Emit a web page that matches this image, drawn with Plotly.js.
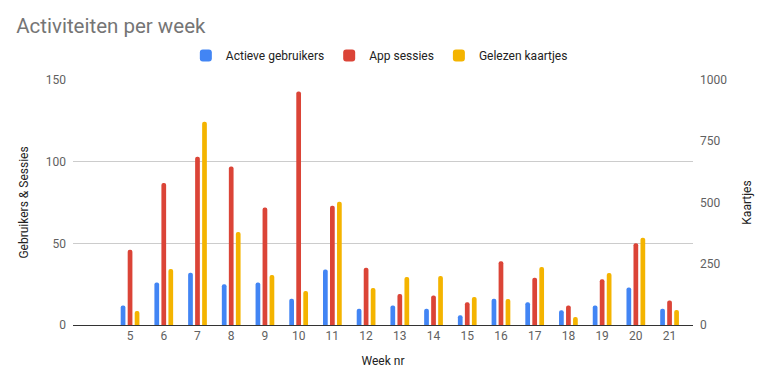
<!DOCTYPE html>
<html>
<head>
<meta charset="utf-8">
<script src="https://cdn.plot.ly/plotly-3.0.1.min.js"></script>
<style>
html,body{margin:0;padding:0;background:#fff;}
#chart{width:771px;height:391px;}
</style>
</head>
<body>
<div id="chart"></div>
<script>
const weeks = [5, 6, 7, 8, 9, 10, 11, 12, 13, 14, 15, 16, 17, 18, 19, 20, 21];
const actieveGebruikers = [12, 26, 32, 25, 26, 16, 34, 10, 12, 10, 6, 16, 14, 9, 12, 23, 10];
const appSessies = [46, 87, 103, 97, 72, 143, 73, 35, 19, 18, 14, 39, 29, 12, 28, 50, 15];
const gelezenKaartjes = [57, 229, 830, 380, 204, 139, 503, 151, 196, 200, 114, 106, 237, 33, 212, 356, 61];

const barW = 0.14;
const step = 0.2078;
const font = "Roboto, 'Open Sans', Arial, sans-serif";

const traces = [
  {type:'bar', name:'Actieve gebruikers', x:weeks, y:actieveGebruikers, yaxis:'y',
   width:barW, offset:-step-barW/2, marker:{color:'#4285F4', cornerradius:2}, hoverinfo:'x+y'},
  {type:'bar', name:'App sessies', x:weeks, y:appSessies, yaxis:'y',
   width:barW, offset:-barW/2, marker:{color:'#DB4437', cornerradius:2}, hoverinfo:'x+y'},
  {type:'bar', name:'Gelezen kaartjes', x:weeks, y:gelezenKaartjes, yaxis:'y2',
   width:barW, offset:step-barW/2, marker:{color:'#F4B400', cornerradius:2}, hoverinfo:'x+y'}
];

const layout = {
  width:771, height:391,
  margin:{l:73, r:78, t:80, b:66},
  paper_bgcolor:'#fff', plot_bgcolor:'#fff',
  font:{family:font, size:12, color:'#616161'},
  barmode:'overlay',
  title:{text:'Activiteiten per week', x:0.021, xanchor:'left', y:0.933, yanchor:'middle',
         font:{family:font, size:20.5, color:'#757575'}},
  showlegend:true,
  legend:{orientation:'h', x:0.182, xanchor:'left', y:1.10, yanchor:'middle',
          font:{family:font, size:12, color:'#222'}, itemwidth:30, traceorder:'normal'},
  xaxis:{type:'linear', range:[3.308, 21.695], tickvals:weeks, ticktext:weeks.map(String),
         showgrid:false, zeroline:false, showline:true, linecolor:'#333', linewidth:1,
         ticks:'', tickfont:{size:12, color:'#616161'},
         title:{text:'Week nr', font:{size:12, color:'#222'}, standoff:14}, automargin:false},
  yaxis:{range:[0,150], tickvals:[0,50,100,150], showgrid:true, gridcolor:'#cccccc',
         zeroline:false, showline:false, ticks:'', ticklabelstandoff:6,
         tickfont:{size:12, color:'#616161'},
         title:{text:'Gebruikers & Sessies', font:{size:12, color:'#222'}, standoff:14}, automargin:false},
  yaxis2:{range:[0,1000], tickvals:[0,250,500,750,1000], overlaying:'y', side:'right',
          showgrid:false, zeroline:false, showline:false, ticks:'', ticklabelstandoff:6,
          tickfont:{size:12, color:'#616161'},
          title:{text:'Kaartjes', font:{size:12, color:'#222'}, standoff:16}, automargin:false}
};

Plotly.newPlot('chart', traces, layout, {displayModeBar:false, staticPlot:true});
</script>
</body>
</html>
